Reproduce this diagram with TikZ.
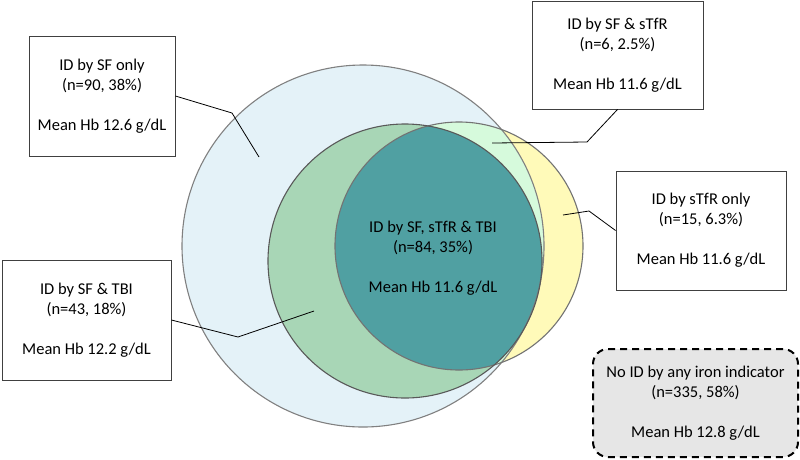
\documentclass[tikz,border=0pt]{standalone}
\usepackage{fontspec}
\setmainfont{Carlito}
\usepackage{xcolor}
\usepackage{tikz}
\usetikzlibrary{positioning}

\definecolor{sfblue}{HTML}{E4F2F8}
\definecolor{sfmint}{HTML}{D6FADC}
\definecolor{tbigreen}{HTML}{A8D6B6}
\definecolor{stfryellow}{HTML}{FFFAB9}
\definecolor{allteal}{HTML}{50A0A2}
\definecolor{noidgray}{HTML}{E6E6E6}

\begin{document}
\begin{tikzpicture}[x=1pt,y=-1pt]

                \useasboundingbox (0,0) rectangle (800,459);

                \tikzstyle{infobox}=[draw=black!75,fill=white,line width=0.9pt,align=center,inner sep=0pt,font=\fontsize{16.5}{20}\selectfont]
                \tikzstyle{leader}=[draw=black,line width=0.8pt]

                % circle centres
                \coordinate (sfc) at (363,246);
                \coordinate (tbic) at (405,261);
                \coordinate (stfrc) at (459,246);

                % regions
                \fill[sfblue] (sfc) circle (181pt);
                \fill[stfryellow] (stfrc) circle (124pt);
                \begin{scope}
                    \clip (sfc) circle (181pt);
                    \fill[sfmint] (stfrc) circle (124pt);
                \end{scope}
                \fill[tbigreen] (tbic) circle (137pt);
                \begin{scope}
                    \clip (tbic) circle (137pt);
                    \fill[allteal] (stfrc) circle (124pt);
                \end{scope}

                % outlines
                \draw[black!50,line width=1.1pt] (sfc) circle (181pt);
                \draw[black!55,line width=1.1pt] (stfrc) circle (124pt);
                \draw[black!65,line width=1.1pt] (tbic) circle (137pt);

                \node[align=center,font=\fontsize{16.5}{20}\selectfont] (allthree) at (433,258)
                    {ID by SF, sTfR \& TBI\\(n=84, 35\%)\\[20pt]Mean Hb 11.6 g/dL};

                % boxes
                \node[infobox,minimum width=146pt,minimum height=120pt] (sfonly) at (102,96)
                    {ID by SF only\\(n=90, 38\%)\\[20pt]Mean Hb 12.6 g/dL};
                \node[infobox,minimum width=171pt,minimum height=108pt] (sfstfr) at (617.5,55)
                    {ID by SF \& sTfR\\(n=6, 2.5\%)\\[20pt]Mean Hb 11.6 g/dL};
                \node[infobox,minimum width=170pt,minimum height=119pt] (stfronly) at (701,230.5)
                    {ID by sTfR only\\(n=15, 6.3\%)\\[20pt]Mean Hb 11.6 g/dL};
                \node[infobox,minimum width=169pt,minimum height=120pt] (sftbi) at (86.5,320)
                    {ID by SF \& TBI\\(n=43, 18\%)\\[20pt]Mean Hb 12.2 g/dL};
                \node[infobox,draw=black,fill=noidgray,line width=2pt,dash pattern=on 7pt off 5pt,rounded corners=15pt,minimum width=205pt,minimum height=108pt] (noid) at (695.5,403)
                    {No ID by any iron indicator\\(n=335, 58\%)\\[20pt]Mean Hb 12.8 g/dL};

                % leader lines
                \coordinate (sfonlybend) at (232,113);
                \coordinate (sfonlytip) at (259,157);
                \coordinate (sfstfrbend) at (587,142);
                \coordinate (sfstfrtip) at (492,143);
                \coordinate (stfronlybend) at (589,211);
                \coordinate (stfronlytip) at (563,215);
                \coordinate (sftbibend) at (238,337);
                \coordinate (sftbitip) at (314,311);

                \draw[leader] (sfonly.east) -- (sfonlybend) -- (sfonlytip);
                \draw[leader] (sfstfr.south) -- (sfstfrbend) -- (sfstfrtip);
                \draw[leader] (stfronly.west) -- (stfronlybend) -- (stfronlytip);
                \draw[leader] (sftbi.east) -- (sftbibend) -- (sftbitip);

\end{tikzpicture}
\end{document}
